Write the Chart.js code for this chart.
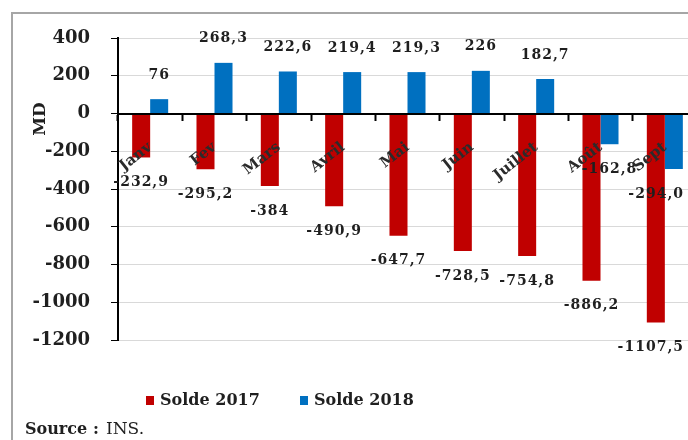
<!DOCTYPE html>
<html>
<head>
<meta charset="utf-8">
<script src="https://cdn.jsdelivr.net/npm/chart.js@4/dist/chart.umd.min.js"></script>
<style>
  html, body { margin: 0; padding: 0; background: #fff; overflow: hidden; }
  #wrap { width: 720px; height: 440px; }
</style>
</head>
<body>
<div id="wrap"><canvas id="chart" width="720" height="440"></canvas></div>
<script>
const months = ['Janv', 'Fev', 'Mars', 'Avril', 'Mai', 'Juin', 'Juillet', 'Août', 'Sept'];
const solde2017 = [-232.9, -295.2, -384, -490.9, -647.7, -728.5, -754.8, -886.2, -1107.5];
const solde2018 = [76, 268.3, 222.6, 219.4, 219.3, 226, 182.7, -162.8, -294.0];
// value labels as printed on the chart
const printed2017 = ['-232,9', '-295,2', '-384', '-490,9', '-647,7', '-728,5', '-754,8', '-886,2', '-1107,5'];
const printed2018 = ['76', '268,3', '222,6', '219,4', '219,3', '226', '182,7', '-162,8', '-294,0'];
const seriesNames = ['Solde 2017', 'Solde 2018'];
const seriesColors = ['#C00000', '#0070C0'];
const yMin = -1200, yMax = 400, yStep = 200;

const SERIF = '"DejaVu Serif", serif';
const INK = '#1f1f1f';

// frame, value labels, axis title, legend and source line
const decor = {
  id: 'decor',
  beforeDraw(chart) {
    const c = chart.ctx;
    c.save();
    c.fillStyle = '#fff';
    c.fillRect(0, 0, chart.width, chart.height);
    c.strokeStyle = '#a6a6a6';
    c.lineWidth = 2;
    c.strokeRect(12, 13, chart.width + 40, chart.height + 40);
    c.restore();
  },
  afterDatasetsDraw(chart) {
    const c = chart.ctx;
    const area = chart.chartArea;
    c.save();
    c.font = 'bold 14px ' + SERIF;
    c.letterSpacing = '1px';
    c.fillStyle = INK;
    c.textAlign = 'center';
    c.textBaseline = 'middle';
    chart.data.datasets.forEach((ds, di) => {
      chart.getDatasetMeta(di).data.forEach((bar, i) => {
        const v = ds.data[i];
        const txt = ds.printed[i];
        const w = c.measureText(txt).width;
        const x = Math.min(area.right - 13 - w / 2, bar.x);
        const y = v >= 0 ? bar.y - 24 : bar.y + 25;
        c.fillText(txt, x, y);
      });
    });
    c.restore();
  },
  afterDraw(chart) {
    const c = chart.ctx;
    c.save();
    c.fillStyle = INK;
    c.textBaseline = 'middle';
    c.textAlign = 'center';
    c.font = 'bold 17px ' + SERIF;
    c.translate(41, 119);
    c.rotate(-Math.PI / 2);
    c.fillText('MD', 0, 0);
    c.restore();

    c.save();
    c.font = 'bold 16px ' + SERIF;
    c.textBaseline = 'middle';
    c.textAlign = 'left';
    let x = 146;
    chart.data.datasets.forEach(ds => {
      c.fillStyle = ds.backgroundColor;
      c.fillRect(x, 396, 8, 9);
      c.fillStyle = INK;
      c.fillText(ds.label, x + 14, 401);
      x += 154;
    });
    c.textBaseline = 'alphabetic';
    c.font = 'bold 16px ' + SERIF;
    c.fillText('Source', 25, 434);
    c.fillText(':', 93, 434);
    c.font = '17px ' + SERIF;
    c.fillText('INS.', 106, 434);
    c.restore();
  }
};

new Chart(document.getElementById('chart'), {
  type: 'bar',
  data: {
    labels: months,
    datasets: [
      { label: seriesNames[0], data: solde2017, printed: printed2017, backgroundColor: seriesColors[0] },
      { label: seriesNames[1], data: solde2018, printed: printed2018, backgroundColor: seriesColors[1] },
    ],
  },
  options: {
    responsive: false,
    animation: false,
    layout: { padding: { left: 0, top: 38, right: 23, bottom: 100 } },
    datasets: { bar: { categoryPercentage: 0.56, barPercentage: 1 } },
    scales: {
      x: {
        position: { y: 0 },
        offset: true,
        afterFit: s => { s.height = 0; },
        grid: { offset: true, drawOnChartArea: false, drawTicks: true, tickLength: 6, tickColor: '#000', tickWidth: 2 },
        border: { display: true, color: '#000', width: 2, z: 1 },
        ticks: {
          z: 2,
          autoSkip: false, minRotation: 38, maxRotation: 38, padding: 19,
          color: '#2b2b2b', font: { family: SERIF, size: 15, weight: 'bold' },
        },
      },
      y: {
        min: yMin,
        max: yMax,
        afterFit: s => { s.width = 118; },
        grid: { color: '#d9d9d9', lineWidth: 1, tickColor: '#000', tickLength: 7 },
        border: { display: true, color: '#000', width: 2 },
        ticks: {
          stepSize: yStep, padding: 21,
          callback: v => String(v),
          color: INK, font: { family: SERIF, size: 18, weight: 'bold' },
        },
      },
    },
    plugins: {
      legend: { display: false },
      tooltip: { enabled: false },
    },
  },
  plugins: [decor],
});
</script>
</body>
</html>
